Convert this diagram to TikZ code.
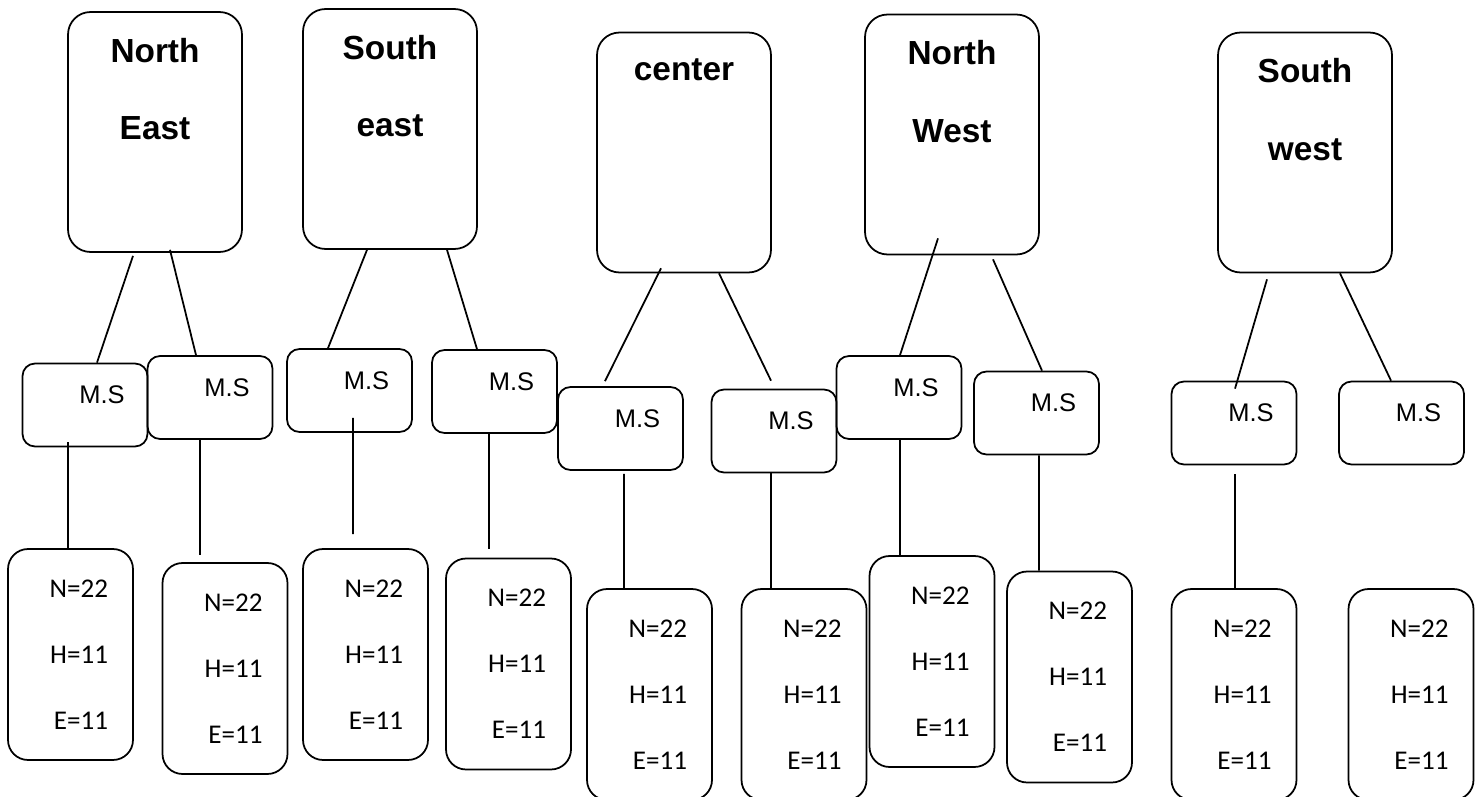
\documentclass[tikz,border=0pt]{standalone}
\usepackage{fontspec}
\setmainfont{Liberation Sans}
\newfontfamily\calfont{Carlito}
\usepackage{tikz}
\usetikzlibrary{positioning}

\begin{document}
\begin{tikzpicture}
		[x=0.02cm, y=-0.02cm, line width=1pt,
		region/.style={rectangle, draw=black, rounded corners=0.45cm, minimum width=3.48cm, minimum height=4.8cm},
		regname/.style={inner sep=0pt, align=center, font=\bfseries\fontsize{19}{44}\selectfont},
		ms/.style={rectangle, draw=black, rounded corners=0.25cm, minimum width=2.5cm, minimum height=1.66cm},
		mslabel/.style={inner sep=0pt, font=\fontsize{14.5}{17}\selectfont},
		leaf/.style={rectangle, draw=black, rounded corners=0.4cm, minimum height=4.22cm, text width=1.5cm, inner xsep=0.5cm, align=right, font=\calfont\fontsize{15.4}{37.5}\selectfont}]
		\useasboundingbox (0,0) rectangle (1477,797);
		\clip (0,0) rectangle (1477,797);

		% regions
		\node[region] (ne) at (155,132) {};
		\node[region] (se) at (390,129) {};
		\node[region] (ce) at (684,152.5) {};
		\node[region] (nw) at (952,134.5) {};
		\node[region] (sw) at (1305,152.5) {};
		\node[regname, below=0.52cm of ne.north] (ne-name) {North\\East};
		\node[regname, below=0.52cm of se.north] (se-name) {South\\east};
		\node[regname, below=0.52cm of ce.north] (ce-name) {center};
		\node[regname, below=0.52cm of nw.north] (nw-name) {North\\West};
		\node[regname, below=0.52cm of sw.north] (sw-name) {South\\west};

		% M.S boxes
		\node[ms] (ms1) at (85,405) {};
		\node[ms] (ms2) at (210,397.5) {};
		\node[ms] (ms3) at (349.5,390.5) {};
		\node[ms] (ms4) at (494.5,391.5) {};
		\node[ms] (ms5) at (620.5,428.5) {};
		\node[ms] (ms6) at (774,431) {};
		\node[ms] (ms7) at (899,397.5) {};
		\node[ms] (ms8) at (1036.5,413) {};
		\node[ms] (ms9) at (1234,423) {};
		\node[ms] (ms10) at (1401.5,423) {};
		\node[mslabel] (ms1-t) at ([shift={(17,-10)}]ms1.center) {M.S};
		\node[mslabel] (ms2-t) at ([shift={(17,-10)}]ms2.center) {M.S};
		\node[mslabel] (ms3-t) at ([shift={(17,-10)}]ms3.center) {M.S};
		\node[mslabel] (ms4-t) at ([shift={(17,-10)}]ms4.center) {M.S};
		\node[mslabel] (ms5-t) at ([shift={(17,-10)}]ms5.center) {M.S};
		\node[mslabel] (ms6-t) at ([shift={(17,-10)}]ms6.center) {M.S};
		\node[mslabel] (ms7-t) at ([shift={(17,-10)}]ms7.center) {M.S};
		\node[mslabel] (ms8-t) at ([shift={(17,-10)}]ms8.center) {M.S};
		\node[mslabel] (ms9-t) at ([shift={(17,-10)}]ms9.center) {M.S};
		\node[mslabel] (ms10-t) at ([shift={(17,-10)}]ms10.center) {M.S};

		% sample boxes
		\node[leaf] (l1) at (70.5,654.5) {N=22\\H=11\\E=11};
		\node[leaf] (l2) at (225,668.5) {N=22\\H=11\\E=11};
		\node[leaf] (l3) at (365.5,654.5) {N=22\\H=11\\E=11};
		\node[leaf] (l4) at (508.5,664) {N=22\\H=11\\E=11};
		\node[leaf] (l5) at (649.5,694.5) {N=22\\H=11\\E=11};
		\node[leaf] (l6) at (804,694.5) {N=22\\H=11\\E=11};
		\node[leaf] (l7) at (932,661.5) {N=22\\H=11\\E=11};
		\node[leaf] (l8) at (1069.5,677) {N=22\\H=11\\E=11};
		\node[leaf] (l9) at (1234,694.5) {N=22\\H=11\\E=11};
		\node[leaf] (l10) at (1411,694.5) {N=22\\H=11\\E=11};

		% region to M.S
		\draw ([shift={(-22,3)}]ne.south) -- ([shift={(12,0)}]ms1.north);
		\draw ([shift={(15,-3)}]ne.south) -- ([shift={(-14,0)}]ms2.north);
		\draw ([shift={(-23,0)}]se.south) -- ([shift={(-21.5,0)}]ms3.north);
		\draw ([shift={(57,0)}]se.south) -- ([shift={(-17.5,0)}]ms4.north);
		\draw ([shift={(-23,-5)}]ce.south) -- ([shift={(-15.5,-5)}]ms5.north);
		\draw ([shift={(35,0)}]ce.south) -- ([shift={(-3,-8)}]ms6.north);
		\draw ([shift={(-14,-17)}]nw.south) -- ([shift={(1,0)}]ms7.north);
		\draw ([shift={(41,4)}]nw.south) -- ([shift={(5.5,0)}]ms8.north);
		\draw ([shift={(-38,6)}]sw.south) -- ([shift={(1,8)}]ms9.north);
		\draw ([shift={(35,0)}]sw.south) -- ([shift={(-10.5,0)}]ms10.north);

		% M.S to samples
		\draw ([shift={(-17,-5)}]ms1.south) -- ([shift={(-2.5,0)}]l1.north);
		\draw ([shift={(-10,0)}]ms2.south) -- ([shift={(-25,-7)}]l2.north);
		\draw ([shift={(3.5,-15)}]ms3.south) -- ([shift={(-12.5,-14)}]l3.north);
		\draw ([shift={(-5.5,0)}]ms4.south) -- ([shift={(-19.5,-9)}]l4.north);
		\draw ([shift={(3.5,3)}]ms5.south) -- ([shift={(-25.5,0)}]l5.north);
		\draw ([shift={(-3,0)}]ms6.south) -- ([shift={(-33,0)}]l6.north);
		\draw ([shift={(1,0)}]ms7.south) -- ([shift={(-32,0)}]l7.north);
		\draw ([shift={(2.5,0)}]ms8.south) -- ([shift={(-30.5,0)}]l8.north);
		\draw ([shift={(1,9)}]ms9.south) -- ([shift={(1,0)}]l9.north);
	\end{tikzpicture}
\end{document}
